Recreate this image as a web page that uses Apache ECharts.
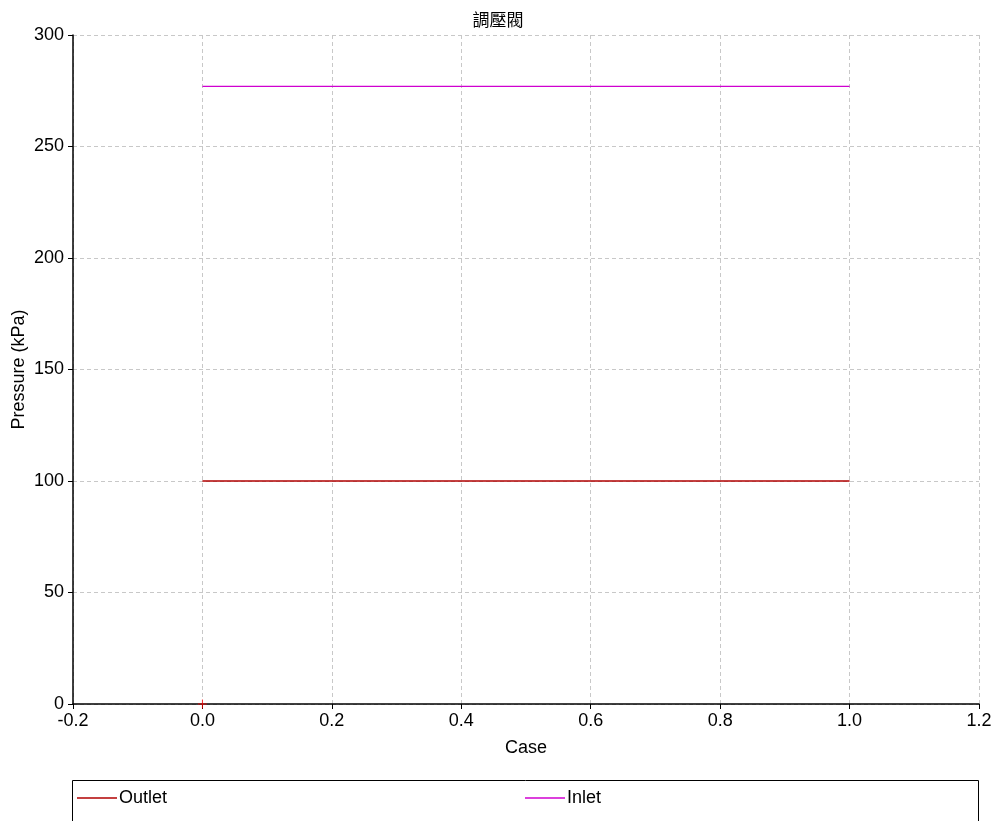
<!DOCTYPE html>
<html>
<head>
<meta charset="utf-8">
<script src="https://cdn.jsdelivr.net/npm/echarts@6/dist/echarts.min.js"></script>
<style>html,body{margin:0;padding:0;background:#fff}#c{width:996px;height:821px}</style>
</head>
<body>
<div id="c"></div>
<script>
const titleText = '調壓閥';
const xName = 'Case';
const yName = 'Pressure (kPa)';
const caseX = [0, 1];
const outletVals = [100, 100];
const inletVals = [277, 277];
const markerPt = [[0, 0]];

const font = 'Arial, "Liberation Sans", "Noto Sans CJK TC", sans-serif';
const chart = echarts.init(document.getElementById('c'));
chart.setOption({
  animation: false,
  backgroundColor: '#fff',
  title: { text: titleText, left: 'center', top: 6,
    textStyle: { fontFamily: '"Noto Sans CJK TC", sans-serif', fontSize: 17, fontWeight: 'normal', color: '#000' } },
  grid: { left: 73, right: 17, top: 35, bottom: 117, outerBoundsMode: 'none', containLabel: false },
  xAxis: {
    type: 'value', min: -0.2, max: 1.2, interval: 0.2,
    name: xName, nameLocation: 'middle', nameGap: 35, nameMoveOverlap: false,
    nameTextStyle: { fontFamily: font, fontSize: 18, color: '#000' },
    axisLine: { show: true, onZero: false, lineStyle: { color: '#000', width: 1.5 } },
    axisTick: { show: true, length: 5, lineStyle: { color: '#000' } },
    axisLabel: { fontFamily: font, fontSize: 18, color: '#000', margin: 8,
      formatter: v => v.toFixed(1) },
    splitLine: { show: true, lineStyle: { color: '#c8c8c8', type: [4, 3] } }
  },
  yAxis: {
    type: 'value', min: 0, max: 300, interval: 50,
    name: yName, nameLocation: 'middle', nameGap: 45, nameMoveOverlap: false,
    nameTextStyle: { fontFamily: font, fontSize: 18, color: '#000' },
    axisLine: { show: true, onZero: false, lineStyle: { color: '#000', width: 1.5 } },
    axisTick: { show: true, length: 5, lineStyle: { color: '#000' } },
    axisLabel: { fontFamily: font, fontSize: 18, color: '#000', margin: 9 },
    splitLine: { show: true, lineStyle: { color: '#c8c8c8', type: [4, 3] } }
  },
  legend: [
    { left: 77, top: 789, padding: 0, data: [{ name: 'Outlet', icon: 'rect' }], itemWidth: 40, itemHeight: 1.5, itemGap: 2,
      textStyle: { fontFamily: font, fontSize: 18, color: '#000', padding: [0, 0, 0, -3] } },
    { left: 525, top: 789, padding: 0, data: [{ name: 'Inlet', icon: 'rect' }], itemWidth: 40, itemHeight: 1.5, itemGap: 2,
      textStyle: { fontFamily: font, fontSize: 18, color: '#000', padding: [0, 0, 0, -3] } }
  ],
  graphic: [
    { type: 'rect', shape: { x: 72.5, y: 780.5, width: 906, height: 60 }, silent: true,
      style: { fill: 'none', stroke: '#000', lineWidth: 1 } }
  ],
  series: [
    { name: 'Outlet', type: 'line', data: caseX.map((x, i) => [x, outletVals[i]]),
      showSymbol: false, symbol: 'none', lineStyle: { color: '#b00000', width: 1.3 }, itemStyle: { color: '#b00000' } },
    { name: 'Inlet', type: 'line', data: caseX.map((x, i) => [x, inletVals[i]]),
      showSymbol: false, symbol: 'none', lineStyle: { color: '#d000d0', width: 1.2 }, itemStyle: { color: '#d000d0' } },
    { name: 'marker', type: 'scatter', data: markerPt, symbol: 'path://M5,0L5,10M0,5L10,5', symbolSize: 9,
      itemStyle: { color: 'none', borderColor: '#ff0000', borderWidth: 1 }, z: 10 }
  ]
});
</script>
</body>
</html>
